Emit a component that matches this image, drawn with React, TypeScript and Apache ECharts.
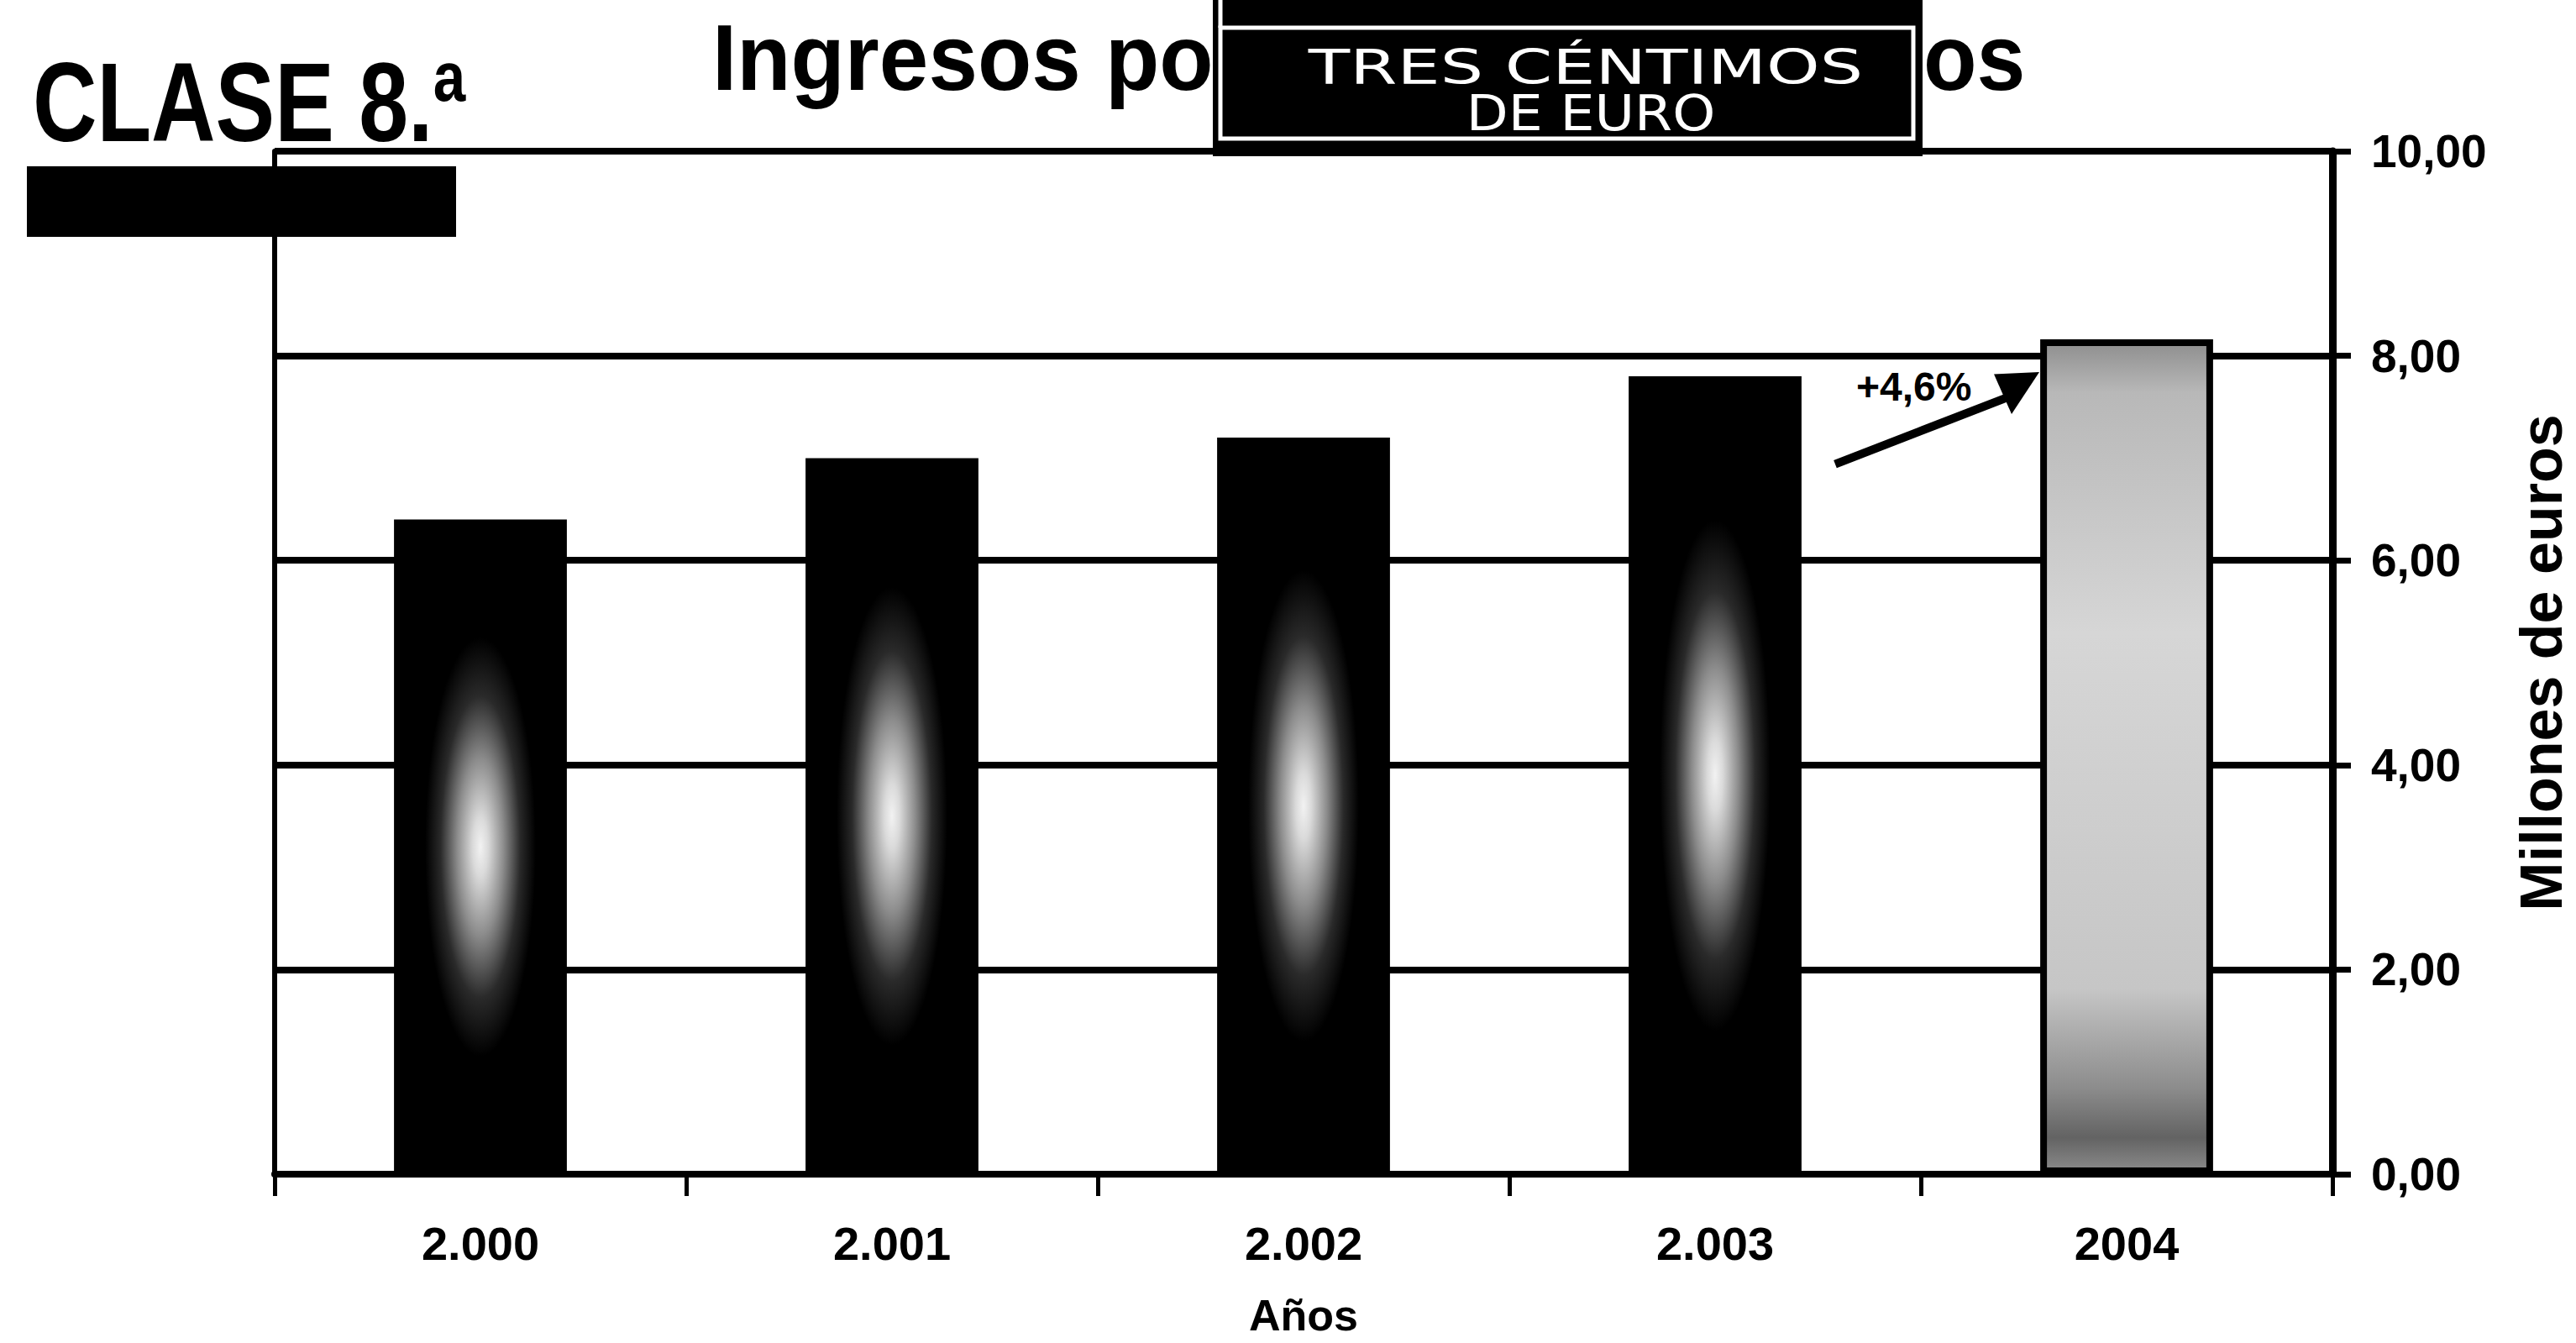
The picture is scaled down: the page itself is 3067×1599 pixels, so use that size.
import React, { useEffect, useRef } from "react";
import * as echarts from "echarts";

// ---- data ----
const years = ["2.000", "2.001", "2.002", "2.003", "2004"];
const ingresos = [6.4, 7.0, 7.2, 7.8, 8.16];
const yTicks = [0, 2, 4, 6, 8, 10];
const growthLabel = "+4,6%";
const titleLeft = "Ingresos po";
const titleRight = "os";
const stampLine1 = "TRES CÉNTIMOS";
const stampLine2 = "DE EURO";
const headerText = "CLASE 8.ª";
const yAxisName = "Millones de euros";
const xAxisName = "Años";

const W = 3067;
const H = 1599;
const FONT = "'Liberation Sans', Arial, Helvetica, sans-serif";

const blackBarFill = {
  type: "radial",
  x: 0.5,
  y: 0.5,
  r: 0.32,
  colorStops: [
    { offset: 0, color: "#f2f2f2" },
    { offset: 0.14, color: "#dadada" },
    { offset: 0.42, color: "#8c8c8c" },
    { offset: 0.72, color: "#2a2a2a" },
    { offset: 1, color: "#000000" },
  ],
};

const grayBarFill = {
  type: "linear",
  x: 0,
  y: 0,
  x2: 0,
  y2: 1,
  colorStops: [
    { offset: 0, color: "#8f8f8f" },
    { offset: 0.06, color: "#b8b8b8" },
    { offset: 0.35, color: "#d6d6d6" },
    { offset: 0.78, color: "#c6c6c6" },
    { offset: 0.9, color: "#8c8c8c" },
    { offset: 0.96, color: "#636363" },
    { offset: 1, color: "#8a8a8a" },
  ],
};

export default function App() {
  const ref = useRef<HTMLDivElement>(null);

  useEffect(() => {
    if (!ref.current) return;
    const chart = echarts.init(ref.current, null, { renderer: "svg", width: W, height: H });

    const option: any = {
      animation: false,
      backgroundColor: "#ffffff",
      grid: {
        left: 327,
        right: W - 2777,
        top: 180,
        bottom: H - 1398,
        containLabel: false,
        outerBoundsMode: "none",
      },
      xAxis: {
        type: "category",
        data: years,
        axisLine: { show: true, onZero: false, lineStyle: { color: "#000", width: 8 } },
        axisTick: { show: true, alignWithLabel: false, length: 26, lineStyle: { color: "#000", width: 5 } },
        axisLabel: {
          interval: 0,
          margin: 54,
          color: "#000",
          fontFamily: FONT,
          fontWeight: "bold",
          fontSize: 56,
        },
        splitLine: { show: false },
        name: xAxisName,
        nameLocation: "middle",
        nameGap: 142,
        nameTextStyle: { color: "#000", fontFamily: FONT, fontWeight: "bold", fontSize: 52 },
      },
      yAxis: [
        {
          type: "value",
          position: "right",
          min: yTicks[0],
          max: yTicks[yTicks.length - 1],
          interval: yTicks[1] - yTicks[0],
          axisLine: { show: true, lineStyle: { color: "#000", width: 9 } },
          axisTick: { show: true, inside: false, length: 22, lineStyle: { color: "#000", width: 7 } },
          axisLabel: {
            margin: 46,
            color: "#000",
            fontFamily: FONT,
            fontWeight: "bold",
            fontSize: 55,
            padding: [0, 0, 14, 0],
            formatter: (v: number) => v.toFixed(2).replace(".", ","),
          },
          splitLine: { show: true, lineStyle: { color: "#000", width: 8 } },
          name: yAxisName,
          nameLocation: "middle",
          nameRotate: 90,
          nameGap: 214,
          nameTextStyle: { color: "#000", fontFamily: FONT, fontWeight: "bold", fontSize: 70 },
        },
        {
          type: "value",
          position: "left",
          min: yTicks[0],
          max: yTicks[yTicks.length - 1],
          interval: yTicks[1] - yTicks[0],
          axisLine: { show: true, lineStyle: { color: "#000", width: 6 } },
          axisTick: { show: false },
          axisLabel: { show: false },
          splitLine: { show: false },
        },
      ],
      series: [
        {
          type: "bar",
          yAxisIndex: 0,
          barWidth: "42%",
          data: ingresos.map((v, i) =>
            i === ingresos.length - 1
              ? { value: v, itemStyle: { color: grayBarFill, borderColor: "#000", borderWidth: 8 } }
              : { value: v, itemStyle: { color: blackBarFill } }
          ),
        },
      ],
    };

    chart.setOption(option);

    // annotation anchored to the 2004 bar position
    const c5 = chart.convertToPixel({ xAxisIndex: 0 }, years[years.length - 1]) as number;
    const yv = (v: number) => chart.convertToPixel({ yAxisIndex: 0 }, v) as number;

    const graphic: any[] = [
      {
        type: "text",
        x: 39,
        y: 55,
        scaleX: 0.79,
        style: { text: headerText, x: 0, y: 0, fill: "#000", fontFamily: FONT, fontWeight: "bold", fontSize: 134, align: "left", verticalAlign: "top" },
      },
      { type: "rect", shape: { x: 32, y: 198, width: 511, height: 84 }, style: { fill: "#000" } },
      {
        type: "text",
        x: 848,
        y: 12,
        scaleX: 0.94,
        style: { text: titleLeft, x: 0, y: 0, fill: "#000", fontFamily: FONT, fontWeight: "bold", fontSize: 112, align: "left", verticalAlign: "top" },
      },
      {
        type: "text",
        x: 2290,
        y: 12,
        scaleX: 0.93,
        style: { text: titleRight, x: 0, y: 0, fill: "#000", fontFamily: FONT, fontWeight: "bold", fontSize: 112, align: "left", verticalAlign: "top" },
      },
      { type: "rect", shape: { x: 1444, y: 0, width: 845, height: 186 }, style: { fill: "#000" } },
      { type: "rect", shape: { x: 1453, y: 33, width: 825, height: 132 }, style: { fill: "none", stroke: "#fff", lineWidth: 5 } },
      { type: "line", shape: { x1: 1453, y1: 0, x2: 1453, y2: 33 }, style: { stroke: "#fff", lineWidth: 5 } },
      {
        type: "text",
        x: 1888,
        y: 80,
        scaleX: 1.42,
        style: { text: stampLine1, x: 0, y: 0, fill: "#fff", fontFamily: "'DejaVu Sans', sans-serif", fontSize: 57, align: "center", verticalAlign: "middle" },
      },
      {
        type: "text",
        x: 1894,
        y: 135,
        scaleX: 1.12,
        style: { text: stampLine2, x: 0, y: 0, fill: "#fff", fontFamily: "'DejaVu Sans', sans-serif", fontSize: 58, align: "center", verticalAlign: "middle" },
      },
      // growth annotation
      {
        type: "line",
        shape: { x1: c5 - 347, y1: yv(6.94), x2: c5 - 140, y2: yv(7.6) },
        style: { stroke: "#000", lineWidth: 10 },
      },
      {
        type: "polygon",
        shape: { points: [[c5 - 158, yv(7.82)], [c5 - 104, yv(7.84)], [c5 - 137, yv(7.43)]] },
        style: { fill: "#000" },
      },
      {
        type: "text",
        x: c5 - 322,
        y: yv(7.7),
        style: { text: growthLabel, x: 0, y: 0, fill: "#000", fontFamily: FONT, fontWeight: "bold", fontSize: 48, align: "left", verticalAlign: "middle" },
      },
    ];

    chart.setOption({ graphic });

    return () => chart.dispose();
  }, []);

  return <div ref={ref} style={{ position: "fixed", left: 0, top: 0, width: W, height: H, background: "#fff" }} />;
}
